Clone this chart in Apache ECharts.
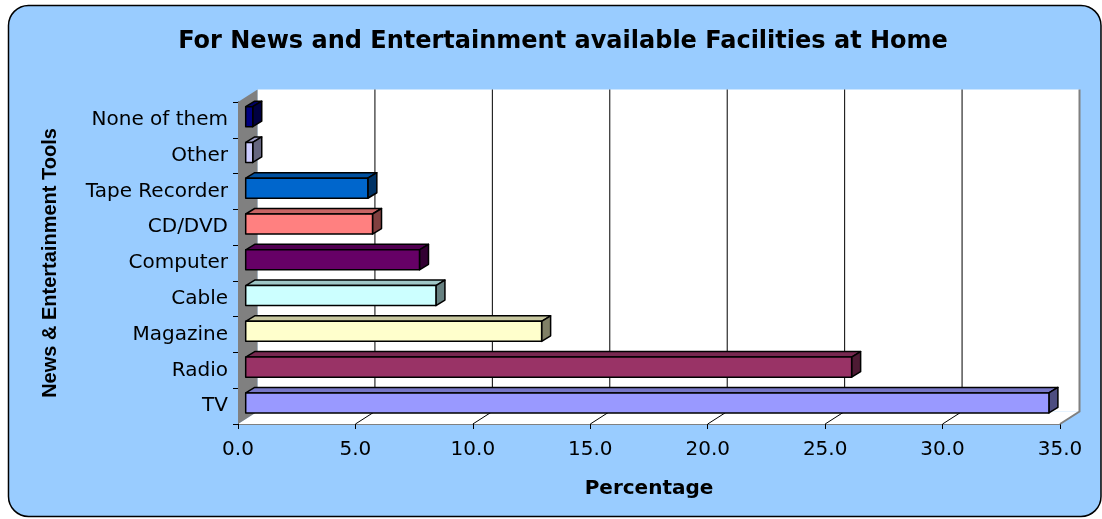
<!DOCTYPE html>
<html>
<head>
<meta charset="utf-8">
<title>For News and Entertainment available Facilities at Home</title>
<script src="https://cdn.jsdelivr.net/npm/echarts@6/dist/echarts.min.js"></script>
<style>
  html, body { margin: 0; padding: 0; background: #ffffff; }
  #chart { width: 1102px; height: 519px; }
</style>
</head>
<body>
<div id="chart"></div>
<script>
// Categories listed bottom-to-top (ECharts puts the first category at the bottom)
const categories = ['TV', 'Radio', 'Magazine', 'Cable', 'Computer', 'CD/DVD', 'Tape Recorder', 'Other', 'None of them'];
const percentages = [34.2, 25.8, 12.6, 8.1, 7.4, 5.4, 5.2, 0.3, 0.3];
const barColors = ['#9999FF', '#993366', '#FFFFCC', '#CCFFFF', '#660066', '#FF8080', '#0066CC', '#CCCCFF', '#000080'];
const tickValues = [0, 5, 10, 15, 20, 25, 30, 35];

// Oblique depth of the 3D box (back plane offset) and of each bar
const WALL_DX = 19.5, WALL_DY = -12.5;
const BAR_OX = 7.7, BAR_OY = -3.2;
const BAR_DX = 9, BAR_DY = -5.5;

function shade(hex, k) {
  const n = parseInt(hex.slice(1), 16);
  const r = Math.round(((n >> 16) & 255) * k);
  const g = Math.round(((n >> 8) & 255) * k);
  const b = Math.round((n & 255) * k);
  return 'rgb(' + r + ',' + g + ',' + b + ')';
}

const chart = echarts.init(document.getElementById('chart'), null, { renderer: 'canvas' });

// Walls, floor and gridlines of the 3D frame
function renderFrame(params, api) {
  const cs = params.coordSys;
  const L = cs.x, T = cs.y, R = cs.x + cs.width, B = cs.y + cs.height;
  const children = [];
  // back wall
  children.push({
    type: 'polygon',
    shape: { points: [[L + WALL_DX, T + WALL_DY], [R + WALL_DX, T + WALL_DY], [R + WALL_DX, B + WALL_DY], [L + WALL_DX, B + WALL_DY]] },
    style: { fill: '#ffffff', stroke: null }
  });
  // floor
  children.push({
    type: 'polygon',
    shape: { points: [[L, B], [L + WALL_DX, B + WALL_DY], [R + WALL_DX, B + WALL_DY], [R, B]] },
    style: { fill: '#ffffff', stroke: null }
  });
  // left side wall
  children.push({
    type: 'polygon',
    shape: { points: [[L, T], [L + WALL_DX, T + WALL_DY], [L + WALL_DX, B + WALL_DY], [L, B]] },
    style: { fill: '#808080', stroke: null }
  });
  // gridlines on back wall and floor
  tickValues.forEach(function (t, i) {
    const x = api.coord([t, 0])[0];
    const last = i === tickValues.length - 1;
    if (i > 0) {
      children.push({
        type: 'polyline',
        shape: { points: [[x + WALL_DX, T + WALL_DY], [x + WALL_DX, B + WALL_DY], [x, B]] },
        style: { fill: null, stroke: last ? '#808080' : '#000000', lineWidth: last ? 2 : 1 }
      });
    }
  });
  return { type: 'group', children: children };
}

// Each bar is a 3D box: front face, top face, right side face
function renderBar(params, api) {
  const v = api.value(0), c = api.value(1);
  const start = api.coord([0, c]);
  const end = api.coord([v, c]);
  const band = api.size([0, 1])[1];
  const h = band * 0.56;
  const x0 = start[0] + BAR_OX, x1 = end[0] + BAR_OX;
  const yc = start[1] + BAR_OY, yt = yc - h / 2, yb = yc + h / 2;
  const color = barColors[params.dataIndex];
  const line = { stroke: '#000000', lineWidth: 1.5, lineJoin: 'round' };
  return {
    type: 'group',
    children: [
      { type: 'polygon', shape: { points: [[x0, yt], [x0 + BAR_DX, yt + BAR_DY], [x1 + BAR_DX, yt + BAR_DY], [x1, yt]] },
        style: Object.assign({ fill: shade(color, 0.78) }, line) },
      { type: 'polygon', shape: { points: [[x1, yt], [x1 + BAR_DX, yt + BAR_DY], [x1 + BAR_DX, yb + BAR_DY], [x1, yb]] },
        style: Object.assign({ fill: shade(color, 0.5) }, line) },
      { type: 'rect', shape: { x: x0, y: yt, width: x1 - x0, height: h },
        style: Object.assign({ fill: color }, line) }
    ]
  };
}

const option = {
  animation: false,
  backgroundColor: 'transparent',
  graphic: [{
    type: 'rect',
    z: -10,
    silent: true,
    shape: { x: 8.5, y: 5.5, width: 1092.5, height: 511, r: 20 },
    style: { fill: '#99CCFF', stroke: '#000000', lineWidth: 1.5 }
  }],
  title: {
    text: 'For News and Entertainment available Facilities at Home',
    left: 558,
    textAlign: 'center',
    top: 25,
    textStyle: { fontFamily: 'DejaVu Sans', fontWeight: 'bold', fontSize: 24, color: '#000000' }
  },
  grid: { left: 238, top: 102, right: 42, bottom: 95, containLabel: false },
  xAxis: {
    type: 'value',
    min: 0,
    max: 35,
    interval: 5,
    name: 'Percentage',
    nameLocation: 'middle',
    nameGap: 55,
    nameTextStyle: { fontFamily: 'DejaVu Sans', fontWeight: 'bold', fontSize: 20, color: '#000000' },
    axisLine: { show: true, lineStyle: { color: '#808080', width: 1 } },
    axisTick: { show: true, length: 5, lineStyle: { color: '#000000' } },
    splitLine: { show: false },
    axisLabel: {
      margin: 16,
      fontFamily: 'DejaVu Sans',
      fontSize: 20,
      color: '#000000',
      formatter: function (v) { return v.toFixed(1); }
    }
  },
  yAxis: {
    type: 'category',
    data: categories,
    name: 'News & Entertainment Tools',
    nameLocation: 'middle',
    nameGap: 178,
    nameTextStyle: { fontFamily: 'Liberation Sans', fontWeight: 'bold', fontSize: 20, color: '#000000' },
    axisLine: { show: true, lineStyle: { color: '#000000', width: 1 } },
    axisTick: { show: true, length: 5, lineStyle: { color: '#000000' } },
    axisLabel: { margin: 10, fontFamily: 'DejaVu Sans', fontSize: 20, color: '#000000' },
    splitLine: { show: false }
  },
  series: [
    {
      type: 'custom',
      z: 1,
      silent: true,
      clip: false,
      renderItem: renderFrame,
      data: [[0, 0]]
    },
    {
      type: 'custom',
      z: 3,
      silent: true,
      clip: false,
      renderItem: renderBar,
      encode: { x: 0, y: 1 },
      data: percentages.map(function (v, i) { return [v, i]; })
    }
  ]
};

chart.setOption(option);
</script>
</body>
</html>
